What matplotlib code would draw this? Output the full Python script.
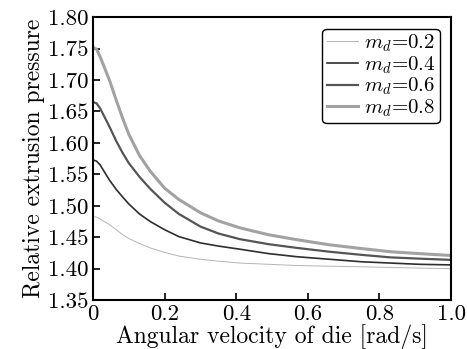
import matplotlib

matplotlib.use("Agg")
import matplotlib.pyplot as plt

# angular velocity of die [rad/s]
omega = [0.0, 0.01, 0.02, 0.046, 0.065, 0.083, 0.10, 0.13, 0.16, 0.20, 0.24,
         0.30, 0.35, 0.41, 0.49, 0.57, 0.66, 0.75, 0.83, 0.91, 1.0]

# relative extrusion pressure for each friction factor m_d
p_02 = [1.483, 1.482, 1.479, 1.470, 1.462, 1.454, 1.448, 1.440, 1.433, 1.426, 1.420,
        1.415, 1.412, 1.409, 1.407, 1.405, 1.404, 1.403, 1.402, 1.401, 1.400]
p_04 = [1.573, 1.571, 1.565, 1.541, 1.526, 1.514, 1.503, 1.487, 1.475, 1.462, 1.451,
        1.441, 1.436, 1.431, 1.424, 1.419, 1.415, 1.411, 1.409, 1.407, 1.406]
p_06 = [1.665, 1.663, 1.655, 1.626, 1.603, 1.584, 1.568, 1.546, 1.527, 1.505, 1.487,
        1.467, 1.456, 1.447, 1.439, 1.433, 1.427, 1.422, 1.418, 1.416, 1.414]
p_08 = [1.752, 1.749, 1.737, 1.700, 1.668, 1.639, 1.614, 1.580, 1.555, 1.528, 1.510,
        1.489, 1.476, 1.465, 1.454, 1.446, 1.438, 1.432, 1.427, 1.424, 1.421]

labels = ["$m_d$=0.2", "$m_d$=0.4", "$m_d$=0.6", "$m_d$=0.8"]
xticks = [0, 0.2, 0.4, 0.6, 0.8, 1.0]
xticklabels = ["0", "0.2", "0.4", "0.6", "0.8", "1.0"]
yticks = [1.35, 1.40, 1.45, 1.50, 1.55, 1.60, 1.65, 1.70, 1.75, 1.80]

plt.rcParams["font.family"] = "serif"
plt.rcParams["font.serif"] = ["cmr10", "DejaVu Serif"]
plt.rcParams["mathtext.fontset"] = "cm"
plt.rcParams["axes.formatter.use_mathtext"] = True

fig = plt.figure(figsize=(4.67, 3.49), dpi=100)
ax = fig.add_axes([0.199, 0.140, 0.767, 0.811])

styles = [
    ("#b4b4b4", 0.7),
    ("#2e2e2e", 1.2),
    ("#555555", 1.6),
    ("#a2a2a2", 2.2),
]
for ys, lab, (col, lw) in zip([p_02, p_04, p_06, p_08], labels, styles):
    ax.plot(omega, ys, color=col, linewidth=lw, label=lab)

ax.set_xlim(0, 1.0)
ax.set_ylim(1.35, 1.80)
ax.set_xticks(xticks)
ax.set_xticklabels(xticklabels)
ax.set_yticks(yticks)
ax.set_yticklabels([f"{v:.2f}" for v in yticks])
ax.tick_params(direction="in", length=5, width=1.2, labelsize=16.5, pad=3,
               top=False, right=False)
for sp in ax.spines.values():
    sp.set_linewidth(1.5)

ax.set_xlabel("Angular velocity of die [rad/s]", fontsize=17, labelpad=0)
ax.set_ylabel("Relative extrusion pressure", fontsize=17, labelpad=2)

leg = ax.legend(loc="upper right", fontsize=15, fancybox=True, framealpha=1,
                edgecolor="black", handlelength=1.5, handletextpad=0.3,
                labelspacing=0.0, borderpad=0.2, borderaxespad=0.55)
leg.get_frame().set_linewidth(1.0)

fig.savefig("out.png", dpi=100)
